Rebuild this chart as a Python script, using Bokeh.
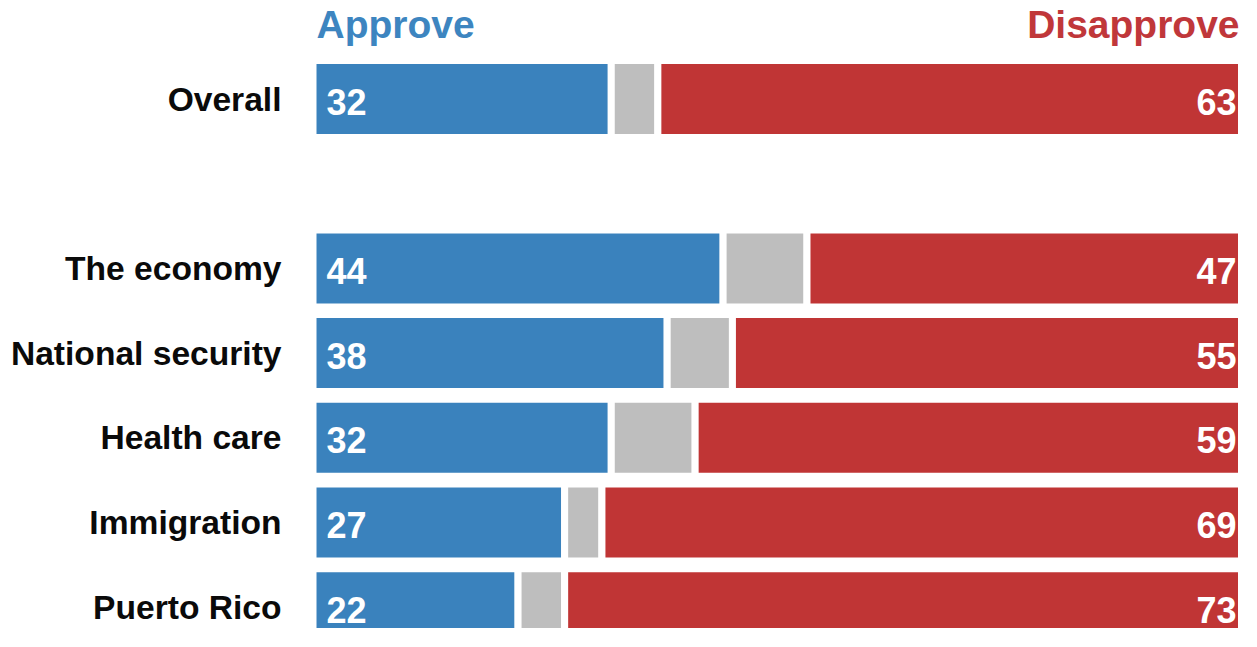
from bokeh.plotting import figure
from bokeh.models import ColumnDataSource, Range1d
from bokeh.core.properties import value
from bokeh.embed import file_html
from bokeh.resources import INLINE

categories = ["Overall", "The economy", "National security", "Health care", "Immigration", "Puerto Rico"]
approve = [32, 44, 38, 32, 27, 22]
neither = [5, 9, 7, 9, 4, 5]
disapprove = [63, 47, 55, 59, 69, 73]

BLUE = "#3a82bd"
GRAY = "#bebebe"
RED = "#c03535"
FONT = value("Liberation Sans")

# Overall first, then a blank slot, then the issues
ypos = [0] + [i + 2 for i in range(len(categories) - 1)]

a_end = approve
n_end = [a + n for a, n in zip(approve, neither)]
d_end = [a + n + d for a, n, d in zip(approve, neither, disapprove)]

src = ColumnDataSource(dict(
    y=ypos, cat=categories,
    a0=[0] * len(ypos), a1=a_end, n1=n_end, d1=d_end,
    atxt=[str(v) for v in approve], dtxt=[str(v) for v in disapprove],
))

p = figure(width=1241, height=631, output_backend="svg", toolbar_location=None,
           x_range=Range1d(-33.53, 99.62), y_range=Range1d(6.287, -1.163),
           min_border=0, min_border_left=0, min_border_right=0,
           min_border_top=0, min_border_bottom=0)
p.axis.visible = False
p.grid.grid_line_color = None
p.outline_line_color = None
p.background_fill_color = "white"
p.border_fill_color = "white"

H = 0.909
p.hbar(y="y", left="a0", right="a1", height=H, source=src, fill_color=BLUE,
       line_color="white", line_width=7)
p.hbar(y="y", left="a1", right="n1", height=H, source=src, fill_color=GRAY,
       line_color="white", line_width=7)
p.hbar(y="y", left="n1", right="d1", height=H, source=src, fill_color=RED,
       line_color="white", line_width=7)

# category labels
p.text(x="a0", y="y", text="cat", source=src, x_offset=-31.5, y_offset=0,
       text_align="right", text_baseline="alphabetic", text_font=FONT,
       text_font_style="bold", text_font_size="33.6px", text_color="#0a0a0a")

# values in bars
p.text(x="a0", y="y", text="atxt", source=src, x_offset=13.5, y_offset=2.5,
       text_align="left", text_baseline="alphabetic", text_font=FONT,
       text_font_style="bold", text_font_size="36px", text_color="white")
p.text(x="d1", y="y", text="dtxt", source=src, x_offset=-8.5, y_offset=2.5,
       text_align="right", text_baseline="alphabetic", text_font=FONT,
       text_font_style="bold", text_font_size="36px", text_color="white")

# headers
hdr = ColumnDataSource(dict(x=[0], y=[0], t=["Approve"]))
hdr2 = ColumnDataSource(dict(x=[100], y=[0], t=["Disapprove"]))
p.text(x="x", y="y", text="t", source=hdr, x_offset=3.5, y_offset=-74.5,
       text_align="left", text_baseline="alphabetic", text_font=FONT,
       text_font_style="bold", text_font_size="39px", text_color="#3d85c0")
p.text(x="x", y="y", text="t", source=hdr2, x_offset=-5.5, y_offset=-74.5,
       text_align="right", text_baseline="alphabetic", text_font=FONT,
       text_font_style="bold", text_font_size="39px", text_color="#c0373a")

open("out.html", "w").write(file_html(p, INLINE))
